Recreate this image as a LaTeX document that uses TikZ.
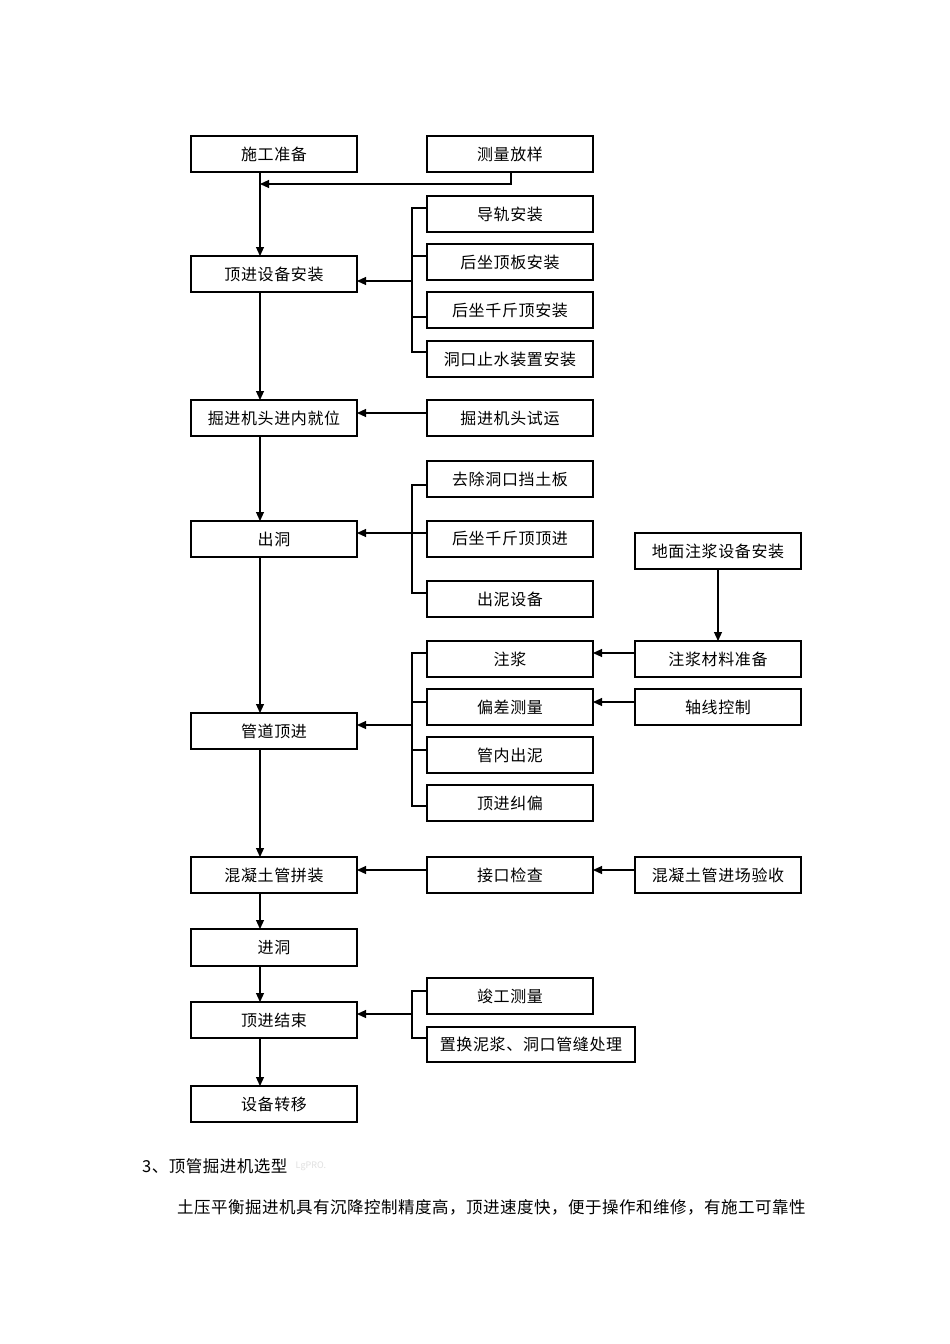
\documentclass[tikz,border=0pt]{standalone}
\usepackage{fontspec}
\setmainfont{Noto Sans CJK SC}
\newfontfamily\boxfam[LetterSpace=4]{Noto Sans CJK SC}
\newfontfamily\bodyfam[LetterSpace=3]{Noto Sans CJK SC}
\newcommand\boxfont{\boxfam\fontsize{16}{18}\selectfont}
\newcommand\bodyfont{\bodyfam\fontsize{16.5}{19}\selectfont}
\usetikzlibrary{arrows.meta}
\newcommand\bx[6]{\node[box,minimum width={#4pt-#2pt},minimum height={#5pt-#3pt}] (#1) at ({(#2+#4)/2},{(#3+#5)/2}) {\raisebox{-1.5pt}{#6}};}
\begin{document}
\begin{tikzpicture}[x=1pt,y=-1pt,
  box/.style={draw,line width=1.1pt,inner sep=0pt,outer sep=0pt,font=\boxfont},
  arr/.style={line width=1.1pt,-{Triangle[length=9pt,width=8pt]}},
  ln/.style={line width=1.1pt}]
\useasboundingbox[fill=white] (0,0) rectangle (950,1344);
% left column
\bx{a1}{191}{136}{357}{172}{施工准备}
\bx{a2}{191}{256}{357}{292}{顶进设备安装}
\bx{a3}{191}{400}{357}{436}{掘进机头进内就位}
\bx{a4}{191}{521}{357}{557}{出洞}
\bx{a5}{191}{713}{357}{749}{管道顶进}
\bx{a6}{191}{857}{357}{893}{混凝土管拼装}
\bx{a7}{191}{929}{357}{966}{进洞}
\bx{a8}{191}{1002}{357}{1038}{顶进结束}
\bx{a9}{191}{1086}{357}{1122}{设备转移}
% middle column
\bx{b1}{427}{136}{593}{172}{测量放样}
\bx{b2}{427}{196}{593}{232}{导轨安装}
\bx{b3}{427}{244}{593}{280}{后坐顶板安装}
\bx{b4}{427}{292}{593}{328}{后坐千斤顶安装}
\bx{b5}{427}{341}{593}{377}{洞口止水装置安装}
\bx{b6}{427}{400}{593}{436}{掘进机头试运}
\bx{b7}{427}{461}{593}{497}{去除洞口挡土板}
\bx{b8}{427}{521}{593}{557}{后坐千斤顶顶进}
\bx{b9}{427}{581}{593}{617}{出泥设备}
\bx{b10}{427}{641}{593}{677}{注浆}
\bx{b11}{427}{689}{593}{725}{偏差测量}
\bx{b12}{427}{737}{593}{773}{管内出泥}
\bx{b13}{427}{785}{593}{821}{顶进纠偏}
\bx{b14}{427}{857}{593}{893}{接口检查}
\bx{b15}{427}{978}{593}{1014}{竣工测量}
\bx{b16}{427}{1027}{635}{1062}{置换泥浆、洞口管缝处理}
% right column
\bx{c1}{635}{533}{801}{569}{地面注浆设备安装}
\bx{c2}{635}{641}{801}{677}{注浆材料准备}
\bx{c3}{635}{689}{801}{725}{轴线控制}
\bx{c4}{635}{857}{801}{893}{混凝土管进场验收}
% main vertical flow
\draw[arr] (a1.south -| 260,0) -- (a2.north -| 260,0);
\draw[arr] (a2.south -| 260,0) -- (a3.north -| 260,0);
\draw[arr] (a3.south -| 260,0) -- (a4.north -| 260,0);
\draw[arr] (a4.south -| 260,0) -- (a5.north -| 260,0);
\draw[arr] (a5.south -| 260,0) -- (a6.north -| 260,0);
\draw[arr] (a6.south -| 260,0) -- (a7.north -| 260,0);
\draw[arr] (a7.south -| 260,0) -- (a8.north -| 260,0);
\draw[arr] (a8.south -| 260,0) -- (a9.north -| 260,0);
% 测量放样
\coordinate (j1) at (260,184);
\draw[arr] (b1.south -| 511,0) |- (j1);
% bracket 1
\draw[ln] (b2.west |- 0,208) -| (412,352) -- (b5.west |- 0,352);
\draw[ln] (412,256) -- (b3.west |- 0,256);
\draw[ln] (412,317) -- (b4.west |- 0,317);
\draw[arr] (412,281) -- (a2.east |- 0,281);
% 掘进机头试运
\draw[arr] (b6.west |- 0,413) -- (a3.east |- 0,413);
% bracket 2
\draw[ln] (b7.west |- 0,485) -| (412,593) -- (b9.west |- 0,593);
\draw[arr] (b8.west |- 0,533) -- (a4.east |- 0,533);
% bracket 3
\draw[ln] (b10.west |- 0,653) -| (412,806) -- (b13.west |- 0,806);
\draw[ln] (412,702) -- (b11.west |- 0,702);
\draw[ln] (412,750) -- (b12.west |- 0,750);
\draw[arr] (412,725) -- (a5.east |- 0,725);
% right column connectors
\draw[arr] (c1.south -| 718,0) -- (c2.north -| 718,0);
\draw[arr] (c2.west |- 0,653) -- (b10.east |- 0,653);
\draw[arr] (c3.west |- 0,702) -- (b11.east |- 0,702);
\draw[arr] (c4.west |- 0,870) -- (b14.east |- 0,870);
\draw[arr] (b14.west |- 0,870) -- (a6.east |- 0,870);
% bracket 4
\draw[ln] (b15.west |- 0,991) -| (412,1038) -- (b16.west |- 0,1038);
\draw[arr] (412,1014) -- (a8.east |- 0,1014);
% text below
\node[anchor=west,inner sep=0pt,font=\bodyfont] (t1) at (142,1166) {3、顶管掘进机选型};
\node[anchor=west,inner sep=0pt,text=black!12,font=\fontsize{9}{10}\selectfont] (wm) at (t1.east) {\hspace{8pt}LgPRO.};
\node[anchor=west,inner sep=0pt,font=\bodyfont] (t2) at (177,1207) {土压平衡掘进机具有沉降控制精度高，顶进速度快，便于操作和维修，有施工可靠性};
\end{tikzpicture}
\end{document}
